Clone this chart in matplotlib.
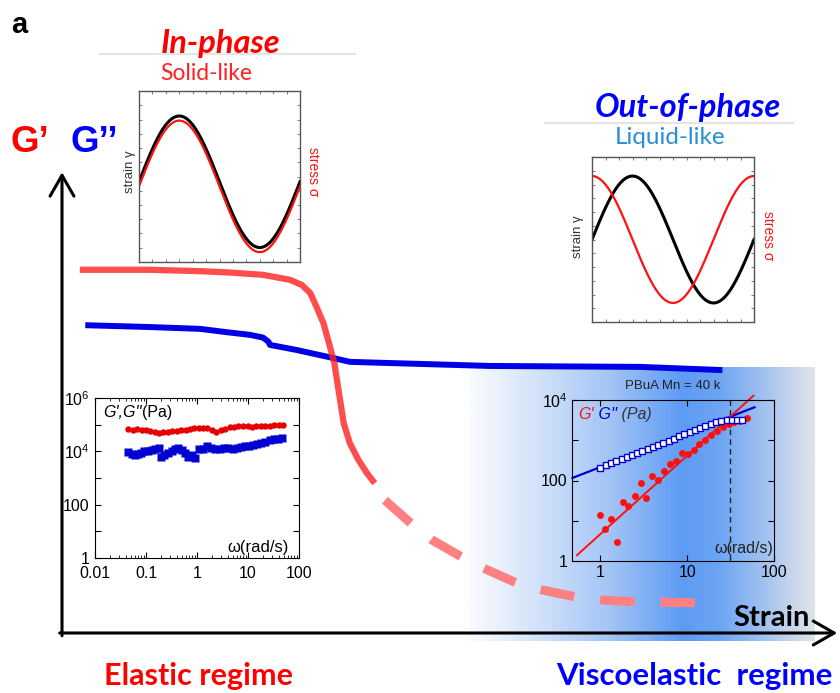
import numpy as np
import matplotlib.pyplot as plt
from matplotlib.colors import LinearSegmentedColormap
from matplotlib.lines import Line2D

plt.rcParams['font.family'] = ['Liberation Sans', 'DejaVu Sans']

W, H = 840, 693


def fx(px):
    return px / W


def fy(py):
    return 1 - py / H


# ---- main schematic (arbitrary strain / modulus units) ----
red_strain = [2.3, 11.3, 17.8, 21.6, 25.9, 29.4, 30.9, 32.0, 32.8, 33.7, 34.4, 35.1,
              35.5, 35.9, 36.3, 37.1, 38.2, 39.3, 40.3]
red_G = [79.3, 79.3, 79.0, 78.7, 78.2, 77.1, 76.0, 74.2, 71.2, 67.6, 63.3, 58.9,
         54.5, 50.2, 45.8, 41.4, 37.8, 34.9, 32.7]
dash_strain = [40.3, 41.6, 45.2, 47.7, 51.7, 54.8, 58.6, 61.9, 66.1, 69.6, 73.8, 81.6]
dash_G = [32.7, 29.0, 23.6, 20.3, 16.4, 13.8, 10.9, 9.4, 7.9, 7.2, 6.8, 6.6]
blue_strain = [3.0, 11.3, 17.8, 21.6, 24.2, 25.9, 26.6, 26.8, 30.2, 34.5, 37.1, 41.0,
               55.2, 74.5, 85.1]
blue_G = [67.2, 66.8, 66.4, 65.6, 65.1, 64.5, 63.6, 62.9, 61.8, 60.2, 59.2, 59.0,
          58.3, 58.1, 57.4]

# ---- sine insets ----
phase_inphase_deg = 0      # stress vs strain, solid-like
phase_outphase_deg = 90    # stress vs strain, liquid-like

# ---- elastic regime inset (frequency sweep) ----
el_w_Gp = [0.045, 0.055, 0.067, 0.082, 0.10, 0.12, 0.15, 0.18, 0.22, 0.27, 0.33, 0.40,
           0.49, 0.60, 0.73, 0.89, 1.09, 1.33, 1.6, 2.0, 2.4, 2.9, 3.6, 4.4, 5.4, 6.5,
           8.0, 9.8, 12, 14.6, 17.8, 21.8, 26.6, 32.5, 39.7, 48.5]
el_Gp = [66e3, 64e3, 67e3, 63e3, 62e3, 60e3, 52e3, 48e3, 52e3, 55e3, 57e3, 60e3,
         62e3, 65e3, 70e3, 73e3, 75e3, 77e3, 72e3, 64e3, 55e3, 62e3, 70e3, 80e3, 84e3,
         88e3, 92e3, 90e3, 85e3, 87e3, 88e3, 86e3, 90e3, 95e3, 100e3, 98e3]
el_w_Gpp = [0.045, 0.052, 0.06, 0.07, 0.08, 0.093, 0.11, 0.13, 0.15, 0.18, 0.2, 0.23,
            0.27, 0.32, 0.37, 0.43, 0.5, 0.58, 0.68, 0.8, 0.92, 1.1, 1.3, 1.6, 1.9, 2.3,
            2.8, 3.4, 4.1, 5.0, 6.0, 7.2, 8.7, 10.5, 12.6, 15.2, 18.3, 22, 26.5, 32,
            38.5, 46]
el_Gpp = [9.5e3, 8.0e3, 7.5e3, 8.0e3, 9.0e3, 10e3, 10e3, 11e3, 12e3, 13e3, 6.3e3,
          7.5e3, 9.0e3, 10.5e3, 12.5e3, 13e3, 11e3, 8.5e3, 6.0e3, 7.0e3, 5.5e3, 12e3,
          12.5e3, 16e3, 13e3, 12e3, 12.5e3, 13e3, 13.5e3, 12.5e3, 13e3, 15e3, 15.5e3,
          16e3, 17e3, 19e3, 21e3, 23e3, 26e3, 28e3, 30e3, 33e3]

# ---- viscoelastic regime inset (PBuA Mn = 40 k) ----
ve_w_Gp = [1.0, 1.12, 1.33, 1.56, 1.8, 2.1, 2.48, 2.92, 3.39, 3.95, 4.6, 5.45, 6.28,
           7.38, 8.7, 10.1, 11.9, 13.8, 16.2, 18.7, 21.9, 26.0, 30.2, 34.8, 40.5, 48.5]
ve_Gp = [14.1, 6.1, 10.8, 3.0, 29.9, 22.8, 42, 86, 37.7, 128, 104, 171, 261, 310, 482,
         448, 562, 794, 1040, 1330, 1680, 2080, 2500, 2800, 3000, 3500]
ve_w_Gpp = [1.0, 1.15, 1.32, 1.52, 1.75, 2.0, 2.3, 2.65, 3.05, 3.5, 4.0, 4.6, 5.3, 6.1,
            7.0, 8.1, 9.3, 10.7, 12.3, 14.1, 16.2, 18.7, 21.5, 24.7, 28.4, 32.7, 37.6,
            43.2]
ve_Gpp = [207, 237, 265, 300, 340, 380, 430, 480, 545, 610, 680, 770, 870, 980, 1100,
          1240, 1400, 1560, 1760, 1980, 2220, 2500, 2800, 3050, 3150, 3200, 3250, 3270]
fit_w_Gp = [0.536, 58.0]
fit_Gp = [1.39, 12800]
fit_w_Gpp = [0.477, 59.6]
fit_Gpp = [116, 6600]
crossover_w = 31

fig = plt.figure(figsize=(8.4, 6.93), dpi=100)

ax = fig.add_axes([0, 0, 1, 1])
ax.axis('off')

# blue band marking the viscoelastic regime
band = LinearSegmentedColormap.from_list('band', [
    (0.0, '#fafcff'), (0.2, '#d2e2fa'), (0.4, '#a6c6f6'), (0.62, '#5d9bf4'),
    (0.72, '#6ba4f3'), (0.85, '#9fc0f0'), (0.94, '#c9d7ec'), (1.0, '#dde3ea')])
ax.imshow(np.linspace(0, 1, 256)[None, :], cmap=band, aspect='auto',
          extent=[52.3, 97.0, -1.8, 57.9], zorder=0)
ax.set_xlim(-7.99, 100.26)
ax.set_ylim(-13.1, 138.2)

ax.plot(blue_strain, blue_G, color='#0000e6', lw=4.3, solid_capstyle='butt', zorder=2)
ax.plot(red_strain, red_G, color='#ff2020', alpha=0.8, lw=4.5,
        solid_capstyle='butt', zorder=3)
ax.plot(dash_strain, dash_G, color='#ff8080', lw=6.5, linestyle=(4.5, (3.8, 2.9)),
        zorder=3)

arrow = dict(arrowstyle='->,head_length=0.75,head_width=0.43', lw=2.2, color='black',
             mutation_scale=20, shrinkA=0, shrinkB=0)
ax.annotate('', xy=(0, 100.6), xytext=(0, -0.6), arrowprops=arrow, zorder=4)
ax.annotate('', xy=(99.9, 0), xytext=(-0.3, 0), arrowprops=arrow, zorder=4)

# labels
fig.text(fx(11), fy(25), 'a', fontsize=21, fontweight='bold', va='center')
fig.text(fx(11), fy(142), 'G’', color='#ff0000', fontsize=26.5, fontweight='bold', va='center')
fig.text(fx(71), fy(142), 'G’’', color='#0000ff', fontsize=26.5, fontweight='bold', va='center')
fig.text(fx(772), fy(618), 'Strain', fontsize=21, fontweight='bold', family='Lato',
         ha='center', va='center')
fig.text(fx(198), fy(676), 'Elastic regime', color='#ff0000', fontsize=22,
         fontweight='bold', family='Lato', ha='center', va='center')
fig.text(fx(694), fy(676), 'Viscoelastic  regime', color='#0000ff', fontsize=22.5,
         fontweight='bold', family='Lato', ha='center', va='center')

fig.text(fx(221), fy(44), 'In-phase', color='#ff0000', fontsize=23.5, fontweight='bold',
         style='italic', family='Lato', ha='center', va='center')
fig.text(fx(206), fy(73), 'Solid-like', color='#ff2020', fontsize=16.5, family='Lato',
         ha='center', va='center')
fig.text(fx(688), fy(108), 'Out-of-phase', color='#0000ff', fontsize=23.5,
         fontweight='bold', style='italic', family='Lato', ha='center', va='center')
fig.text(fx(670), fy(138), 'Liquid-like', color='#2a8fd4', fontsize=17.5, family='Lato',
         ha='center', va='center')
fig.add_artist(Line2D([fx(100), fx(355)], [fy(54), fy(54)], color='#e4e4e4', lw=1.5))
fig.add_artist(Line2D([fx(545), fx(793)], [fy(123), fy(123)], color='#e4e4e4', lw=1.5))


def sine_box(rect, phase_deg, strain_off, stress_off, xl, xr, ylab):
    a = fig.add_axes(rect)
    t = np.linspace(0, 2 * np.pi, 300)
    a.plot(t, np.sin(t) + strain_off, color='black', lw=2.2)
    a.plot(t, np.sin(t + np.deg2rad(phase_deg)) + stress_off, color='#ff1010', lw=1.6)
    a.set_xlim(0, 2 * np.pi)
    a.set_ylim(-1.3, 1.3)
    a.set_xticks(np.linspace(0, 2 * np.pi, 13)[1:-1])
    a.set_yticks(np.linspace(-1.3, 1.3, 13)[1:-1])
    a.tick_params(direction='in', length=2.5, width=0.6, top=True, right=True,
                  labelbottom=False, labelleft=False, colors='#666')
    for s in a.spines.values():
        s.set_color('#555')
        s.set_linewidth(1.0)
    a.text(xl, ylab, 'strain γ', transform=a.transAxes, rotation=90, fontsize=9.5,
           color='#333', ha='center', va='center')
    a.text(xr, ylab, 'stress σ', transform=a.transAxes, rotation=270, fontsize=10,
           color='#ff1010', ha='center', va='center')
    return a


sine_box([fx(139), fy(262), 161 / W, 171 / H], phase_inphase_deg, -0.08, -0.15,
         -0.056, 1.08, 0.526)
sine_box([fx(592), fy(322), 162 / W, 165 / H], phase_outphase_deg, 0.0, 0.0,
         -0.086, 1.086, 0.52)

# elastic regime inset
a1 = fig.add_axes([fx(95), fy(558), 204 / W, 160 / H])
a1.set_xscale('log')
a1.set_yscale('log')
a1.plot(el_w_Gp, el_Gp, 'o', color='#e80000', ms=4.6, mec='none')
a1.plot(el_w_Gpp, el_Gpp, 's', color='#0000d0', ms=5.6, mec='none')
a1.set_xlim(0.01, 100)
a1.set_ylim(1, 1e6)
a1.set_xticks([0.01, 0.1, 1, 10, 100], ['0.01', '0.1', '1', '10', '100'])
a1.set_yticks([1, 10, 100, 1e3, 1e4, 1e5, 1e6],
              ['1', '', '100', '', r'$\mathregular{10^4}$', '', r'$\mathregular{10^6}$'])
a1.tick_params(which='both', direction='in', top=True, right=True, labelsize=11.5)
a1.tick_params(axis='x', pad=6)
a1.tick_params(axis='y', pad=4)
a1.tick_params(which='major', length=4)
a1.tick_params(which='minor', length=2)
t1 = a1.text(0.04, 0.91, "G',G''", transform=a1.transAxes, style='italic', fontsize=11.5,
             va='center')
a1.annotate('(Pa)', xy=(1, 0.5), xycoords=t1, va='center', fontsize=11.5)
a1.text(0.80, 0.065, 'ω(rad/s)', transform=a1.transAxes, fontsize=12, ha='center',
        va='center')

# viscoelastic regime inset
a2 = fig.add_axes([fx(572), fy(561), 202 / W, 161 / H])
a2.patch.set_alpha(0)
a2.set_xscale('log')
a2.set_yscale('log')
a2.axvline(crossover_w, color='#222', lw=1, ls=(0, (4, 3)))
a2.plot(fit_w_Gpp, fit_Gpp, color='#0000cc', lw=1.6, clip_on=False)
a2.plot(fit_w_Gp, fit_Gp, color='#ff1010', lw=1.4, clip_on=False)
a2.plot(ve_w_Gp, ve_Gp, 'o', color='#ff1010', ms=5, mec='none')
a2.plot(ve_w_Gpp, ve_Gpp, 's', mfc='white', mec='#0000cc', ms=5, mew=1)
a2.set_xlim(0.47, 100)
a2.set_ylim(1, 1e4)
a2.set_xticks([1, 10, 100], ['1', '10', '100'])
a2.set_yticks([1, 10, 100, 1e3, 1e4], ['1', '', '100', '', r'$\mathregular{10^4}$'])
a2.minorticks_off()
a2.tick_params(direction='in', top=True, right=True, length=4, labelsize=11.5, pad=3)
t2 = a2.text(0.03, 0.91, "G'", transform=a2.transAxes, style='italic', fontsize=11.5,
             color='#ff1010', va='center')
t3 = a2.annotate(" G''", xy=(1, 0.5), xycoords=t2, va='center', style='italic',
                 fontsize=11.5, color='#0000cc')
a2.annotate(' (Pa)', xy=(1, 0.5), xycoords=t3, va='center', style='italic', fontsize=11.5,
            color='#333')
a2.text(0.85, 0.075, 'ω(rad/s)', transform=a2.transAxes, fontsize=11.5, ha='center',
        va='center', color='#222')
a2.text(0.5, 1.087, 'PBuA Mn = 40 k', transform=a2.transAxes, fontsize=9.5,
        ha='center', va='center', color='#222')

fig.savefig('out.png', dpi=100)
